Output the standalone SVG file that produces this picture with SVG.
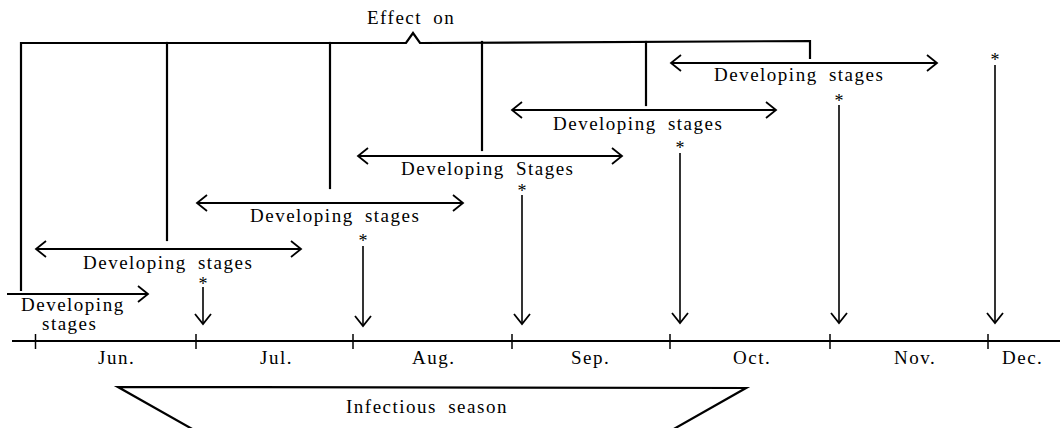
<svg xmlns="http://www.w3.org/2000/svg" width="1060" height="428" viewBox="0 0 1060 428">
<style>
  .t { font-family: "Liberation Serif", "Times New Roman", serif; font-size: 19px; fill: #000; letter-spacing: 1.5px; word-spacing: 5px; }
  .ast { font-family: "Liberation Serif", "Times New Roman", serif; font-size: 18px; fill: #000; text-anchor: middle; }
  .ln { fill: none; stroke: #000; stroke-width: 2.2; stroke-linecap: square; stroke-linejoin: miter; }
  .ar { fill: none; stroke: #000; stroke-width: 1.8; }
  .dn { fill: none; stroke: #000; stroke-width: 1.6; }
  .ax { fill: none; stroke: #000; stroke-width: 1.8; }
  .tk { fill: none; stroke: #000; stroke-width: 1.5; }
</style>
<defs>
  <marker id="head" markerUnits="userSpaceOnUse" viewBox="-1 -10 13 20" markerWidth="13" markerHeight="20" refX="10" refY="0" orient="auto-start-reverse">
    <path d="M0,-8 L10,0 L0,8" fill="none" stroke="#000" stroke-width="1.8"/>
  </marker>
</defs>
<rect width="1060" height="428" fill="#fff"/>

<g id="effect-on">
  <text class="t" x="367" y="24">Effect on</text>
  <path class="ln" d="M21,290 L21,43 L406,43 L413,33 L420,43 L810,41 L810,58"/>
  <line class="ln" x1="167" y1="43" x2="167" y2="240"/>
  <line class="ln" x1="330" y1="43" x2="330" y2="188"/>
  <line class="ln" x1="482" y1="42" x2="482" y2="150"/>
  <line class="ln" x1="646" y1="42" x2="646" y2="105"/>
</g>

<g id="connectors">
  <line class="ar" x1="7" y1="294" x2="148" y2="294" marker-end="url(#head)"/>
  <line class="ar" x1="36" y1="249" x2="301" y2="249" marker-start="url(#head)" marker-end="url(#head)"/>
  <line class="ar" x1="197" y1="203" x2="463" y2="203" marker-start="url(#head)" marker-end="url(#head)"/>
  <line class="ar" x1="358" y1="156" x2="622" y2="156" marker-start="url(#head)" marker-end="url(#head)"/>
  <line class="ar" x1="512" y1="110" x2="776" y2="110" marker-start="url(#head)" marker-end="url(#head)"/>
  <line class="ar" x1="671" y1="63" x2="937" y2="63" marker-start="url(#head)" marker-end="url(#head)"/>

  <line class="dn" x1="203" y1="287" x2="203" y2="324" marker-end="url(#head)"/>
  <line class="dn" x1="363" y1="246" x2="363" y2="326" marker-end="url(#head)"/>
  <line class="dn" x1="522" y1="195" x2="522" y2="324" marker-end="url(#head)"/>
  <line class="dn" x1="680" y1="153" x2="680" y2="323" marker-end="url(#head)"/>
  <line class="dn" x1="839" y1="105" x2="839" y2="323" marker-end="url(#head)"/>
  <line class="dn" x1="995" y1="65" x2="995" y2="323" marker-end="url(#head)"/>
</g>

<g id="stage-1">
  <text class="t" x="21" y="311">Developing</text>
  <text class="t" x="42" y="330">stages</text>
</g>
<g id="stage-2"><text class="t" x="83" y="269">Developing stages</text></g>
<g id="stage-3"><text class="t" x="250" y="222">Developing stages</text></g>
<g id="stage-4"><text class="t" x="401" y="175">Developing Stages</text></g>
<g id="stage-5"><text class="t" x="553" y="130">Developing stages</text></g>
<g id="stage-6"><text class="t" x="714" y="81">Developing stages</text></g>

<g id="asterisks">
  <text class="ast" x="203" y="290">*</text>
  <text class="ast" x="363" y="247">*</text>
  <text class="ast" x="522" y="197">*</text>
  <text class="ast" x="680" y="154">*</text>
  <text class="ast" x="839" y="107">*</text>
  <text class="ast" x="995" y="66">*</text>
</g>

<g id="axis">
  <line class="ax" x1="12" y1="341" x2="1060" y2="341"/>
  <line class="tk" x1="35.5" y1="334" x2="35.5" y2="349"/>
  <line class="tk" x1="196" y1="334" x2="196" y2="349"/>
  <line class="tk" x1="353" y1="334" x2="353" y2="349"/>
  <line class="tk" x1="512" y1="334" x2="512" y2="349"/>
  <line class="tk" x1="670" y1="334" x2="670" y2="349"/>
  <line class="tk" x1="830" y1="334" x2="830" y2="349"/>
  <line class="tk" x1="988" y1="334" x2="988" y2="349"/>
  <text class="t" x="98" y="364">Jun.</text>
  <text class="t" x="260" y="364">Jul.</text>
  <text class="t" x="412" y="364">Aug.</text>
  <text class="t" x="571" y="364">Sep.</text>
  <text class="t" x="733" y="364">Oct.</text>
  <text class="t" x="894" y="364">Nov.</text>
  <text class="t" x="1002" y="364">Dec.</text>
</g>

<g id="infectious-season">
  <path class="ln" d="M194,430 L118,387 L746,388 L672,430" stroke-width="2.6"/>
  <text class="t" x="346" y="413">Infectious season</text>
</g>
</svg>
